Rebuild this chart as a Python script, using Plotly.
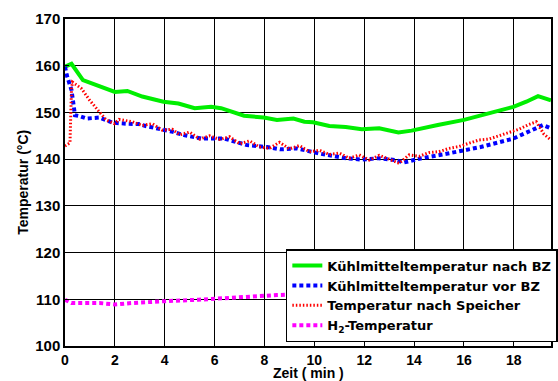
import plotly.graph_objects as go

# Kühlmitteltemperatur nach BZ
x_green = [0, 0.26, 0.72, 1.38, 2.0, 2.5, 3.1, 3.95, 4.55, 5.2, 5.86, 6.26, 7.18, 7.97, 8.5, 9.16, 9.6,
           9.95, 10.6, 11.26, 11.9, 12.6, 13.37, 13.9, 14.4, 14.95, 16.0, 17.06, 17.98, 18.5, 18.97, 19.49]
y_green = [159.8, 160.4, 156.9, 155.5, 154.4, 154.6, 153.4, 152.3, 151.9, 150.9, 151.2, 150.9, 149.3, 148.9, 148.4, 148.7, 148.0,
           147.9, 147.1, 146.9, 146.4, 146.6, 145.7, 146.1, 146.7, 147.3, 148.4, 149.8, 151.2, 152.3, 153.5, 152.6]

# Kühlmitteltemperatur vor BZ
x_blue = [0, 0.07, 0.26, 0.33, 0.4, 0.59, 0.86, 1.38, 1.91, 2.44, 2.96, 3.23, 3.75, 4.28, 4.81, 5.27, 5.47, 6.39,
          7.3, 8.1, 8.63, 9.3, 10.2, 11.26, 11.9, 12.58, 13.24, 13.6, 14.3, 15.35, 16.67, 17.98, 18.77, 19.17, 19.49]
y_blue = [159.8, 158.0, 154.8, 151.6, 149.4, 149.2, 148.7, 148.9, 147.8, 147.6, 147.5, 147.1, 146.6, 145.9, 145.1, 144.6, 144.4, 144.4,
          143.0, 142.6, 142.1, 142.3, 141.2, 140.2, 139.9, 140.2, 139.8, 139.3, 140.2, 141.2, 142.6, 144.4, 146.2, 147.3, 146.6]

# Temperatur nach Speicher
x_red = [0, 0.2, 0.26, 0.3, 0.66, 0.99, 1.38, 1.65, 1.98, 2.17, 2.7, 3.1, 3.5, 3.9, 4.3, 4.6, 5.0, 5.4, 5.8, 6.2, 6.6,
         7.0, 7.4, 7.8, 8.2, 8.6, 9.0, 9.4, 9.8, 10.2, 10.6, 11.0, 11.4, 11.8, 12.2, 12.6, 13.0, 13.4, 13.8, 14.2,
         14.6, 15.0, 15.4, 15.8, 16.2, 16.6, 17.0, 17.4, 17.8, 18.2, 18.6, 18.9, 19.2, 19.49]
y_red = [142.8, 143.5, 155.0, 156.5, 155.1, 152.6, 150.1, 148.4, 147.6, 148.5, 148.0, 147.2, 147.6, 146.2, 146.4, 145.2, 145.8, 144.3, 145.0, 144.2, 144.8,
         143.3, 143.9, 142.6, 142.3, 143.6, 142.2, 142.9, 141.6, 141.9, 141.0, 141.3, 140.2, 140.9, 139.8, 140.8, 140.0, 139.1, 140.9, 140.6,
         141.4, 141.6, 142.3, 142.7, 143.4, 144.1, 144.3, 145.0, 145.7, 146.4, 147.4, 148.0, 145.4, 144.1]

# H2-Temperatur (visible part; the rest is hidden behind the legend)
x_h2 = [0, 0.26, 1.38, 1.98, 2.7, 3.23, 4.02, 5.34, 6.5, 7.5, 8.5, 9.5, 10.5]
y_h2 = [109.9, 109.2, 109.2, 108.9, 109.2, 109.4, 109.6, 109.9, 110.3, 110.6, 110.9, 111.1, 111.3]

names = ["Kühlmitteltemperatur nach BZ", "Kühlmitteltemperatur vor BZ",
         "Temperatur nach Speicher", "H<sub>2</sub>-Temperatur"]
x_title = "Zeit ( min )"
y_title = "Temperatur (°C)"

fig = go.Figure()
fig.add_trace(go.Scatter(x=x_green, y=y_green, mode="lines", name=names[0],
                         line=dict(color="#00ee00", width=4, dash="solid")))
fig.add_trace(go.Scatter(x=x_blue, y=y_blue, mode="lines", name=names[1],
                         line=dict(color="#0000ff", width=4, dash="4px,3px")))
fig.add_trace(go.Scatter(x=x_red, y=y_red, mode="lines", name=names[2],
                         line=dict(color="#ff0000", width=3, dash="1.5px,2px")))
fig.add_trace(go.Scatter(x=x_h2, y=y_h2, mode="lines", name=names[3],
                         line=dict(color="#ff00ff", width=4, dash="4px,3px")))

font_family = "Liberation Sans, Arial, sans-serif"
fig.update_layout(
    width=558, height=381,
    margin=dict(l=65, r=0, t=19, b=35),
    paper_bgcolor="white", plot_bgcolor="white",
    font=dict(family=font_family, color="black"),
    showlegend=True,
    legend=dict(x=0.4544, y=0.012, xanchor="left", yanchor="bottom",
                bgcolor="white", bordercolor="black", borderwidth=1.5,
                font=dict(size=13, family="DejaVu Sans, sans-serif", weight="bold"),
                itemwidth=30, tracegroupgap=0, traceorder="normal"),
    xaxis=dict(range=[0, 19.49], tickmode="array", tickvals=list(range(0, 20, 2)),
               ticktext=[str(v) for v in range(0, 20, 2)],
               showgrid=True, gridcolor="black", gridwidth=1.2,
               showline=True, linecolor="black", linewidth=1.5, mirror=True,
               ticks="inside", ticklen=4, tickcolor="black",
               tickfont=dict(size=14, weight="bold"),
               automargin=False, zeroline=False),
    yaxis=dict(range=[100, 170], tickmode="array", tickvals=list(range(100, 171, 10)),
               ticktext=[str(v) for v in range(100, 171, 10)],
               showgrid=True, gridcolor="black", gridwidth=1.2,
               showline=True, linecolor="black", linewidth=1.5, mirror=True,
               ticks="inside", ticklen=4, tickcolor="black",
               tickfont=dict(size=15, weight="bold"),
               automargin=False, zeroline=False),
    annotations=[
        dict(text=x_title, xref="paper", yref="paper", x=0.5, y=-0.082,
             xanchor="center", yanchor="middle", showarrow=False,
             font=dict(size=14, weight="bold")),
        dict(text=y_title, xref="paper", yref="paper", x=-0.088, y=0.5,
             xanchor="center", yanchor="middle", showarrow=False, textangle=-90,
             font=dict(size=14, weight="bold")),
    ],
)

fig.write_html("out.html")
